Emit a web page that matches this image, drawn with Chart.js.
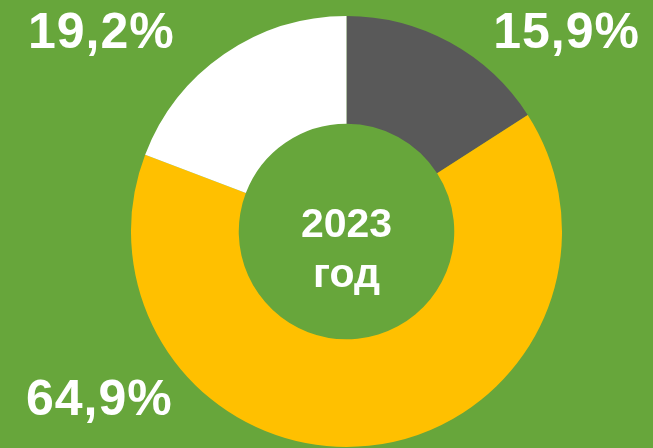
<!DOCTYPE html>
<html>
<head>
<meta charset="utf-8">
<script src="https://cdn.jsdelivr.net/npm/chart.js@4"></script>
<style>
    html, body {
        margin: 0;
        padding: 0;
        background: #67A63B;
        overflow: hidden;
    }
    #wrap {
        width: 653px;
        height: 448px;
    }
</style>
</head>
<body>
<div id="wrap"><canvas id="shareChart" width="653" height="448"></canvas></div>
<script>
// Data
const categories = ['Прочее', 'Основное', 'Другое'];
const shares = [15.9, 64.9, 19.2];
const sliceColors = ['#595959', '#FFC000', '#FFFFFF'];
const centerLines = ['2023', 'год'];

const FONT = '"Liberation Sans", Arial, sans-serif';

function fmtPct(v) {
    return v.toFixed(1).replace('.', ',') + '%';
}

// Percent labels in the corners + year in the hole
const labelsPlugin = {
    id: 'cornerLabels',
    afterDraw(chart) {
        const ctx = chart.ctx;
        const w = chart.width;
        ctx.save();
        ctx.fillStyle = '#FFFFFF';
        ctx.font = 'bold 50px ' + FONT;
        ctx.letterSpacing = '1px';
        ctx.textBaseline = 'alphabetic';

        // 15,9% top right
        ctx.textAlign = 'right';
        ctx.fillText(fmtPct(shares[0]), w - 13, 48);
        // 19,2% top left
        ctx.textAlign = 'left';
        ctx.fillText(fmtPct(shares[2]), 28, 48);
        // 64,9% bottom left
        ctx.fillText(fmtPct(shares[1]), 26, 415);

        // centre text
        const meta = chart.getDatasetMeta(0).data[0];
        ctx.letterSpacing = '0px';
        ctx.textAlign = 'center';
        ctx.font = 'bold 41px ' + FONT;
        ctx.fillText(centerLines[0], meta.x, meta.y + 5);
        ctx.fillText(centerLines[1], meta.x, meta.y + 55);
        ctx.restore();
    }
};

new Chart(document.getElementById('shareChart'), {
    type: 'doughnut',
    data: {
        labels: categories,
        datasets: [{
            data: shares,
            backgroundColor: sliceColors,
            borderWidth: 0
        }]
    },
    options: {
        responsive: false,
        animation: false,
        cutout: '50%',
        layout: {
            padding: { top: 16, bottom: 1, left: 40, right: 0 }
        },
        plugins: {
            legend: { display: false },
            tooltip: { enabled: false }
        }
    },
    plugins: [labelsPlugin]
});
</script>
</body>
</html>
